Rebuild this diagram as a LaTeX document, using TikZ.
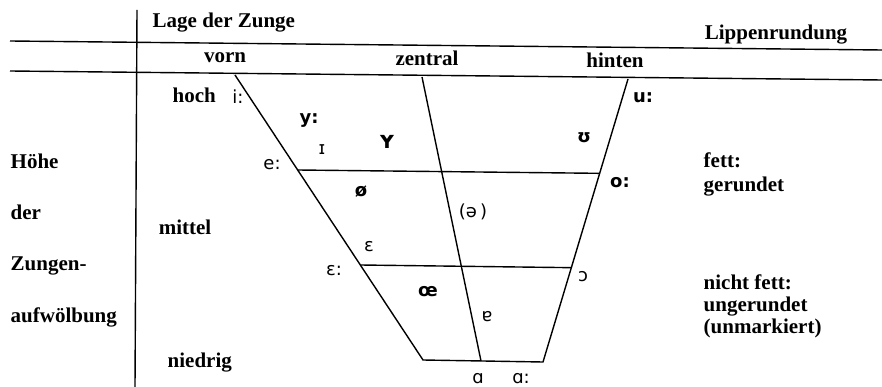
\documentclass[tikz,border=0pt]{standalone}
\usepackage{fontspec}
\setmainfont{Liberation Serif}
\newfontfamily\ipafont{DejaVu Sans}
\usetikzlibrary{calc}
\begin{document}
\begin{tikzpicture}[x=1pt,y=-1pt,line width=1.4pt,
  lbl/.style={font=\fontsize{21}{25}\selectfont\bfseries,inner sep=0pt},
  snd/.style={font=\ipafont\fontsize{18}{21}\selectfont,inner sep=0pt},
  rsnd/.style={font=\ipafont\bfseries\fontsize{18}{21}\selectfont,inner sep=0pt}]
\useasboundingbox (0,0) rectangle (882,387);
% frame lines
\coordinate (h1l) at (10,41);  \coordinate (h1r) at (882,50);
\coordinate (h2l) at (10,71);  \coordinate (h2r) at (882,80);
\coordinate (vt) at (137,10);  \coordinate (vb) at (135,387);
% trapezoid
\coordinate (tl) at (235,75);  \coordinate (tr) at (628,79);
\coordinate (bl) at (423,360); \coordinate (br) at (543,362);
\coordinate (ct) at (422,77);  \coordinate (cb) at (481,361);
\coordinate (ml1) at ($(tl)!1/3!(bl)$);
\coordinate (mr1) at ($(tr)!1/3!(br)$);
\coordinate (ml2) at ($(tl)!2/3!(bl)$);
\coordinate (mr2) at ($(tr)!2/3!(br)$);
\draw (h1l) -- (h1r);
\draw (h2l) -- (h2r);
\draw (vt) -- (vb);
\draw (tl) -- (bl) -- (br) -- (tr);
\draw (ct) -- (cb);
\draw (ml1) -- (mr1);
\draw (ml2) -- (mr2);
% headings
\node[lbl,anchor=base west] (lage) at (152,28) {Lage der Zunge};
\node[lbl,anchor=base] (vorn) at (225,63) {vorn};
\node[lbl,anchor=base] (zentral) at (427,66) {zentral};
\node[lbl,anchor=base] (hinten) at (615,68) {hinten};
\node[lbl,anchor=base] (lippen) at (776,40) {Lippenrundung};
\node[lbl,anchor=base west] (hoch) at (172,103) {hoch};
\node[lbl,anchor=base] (mittel) at (185,234) {mittel};
\node[lbl,anchor=base west] (niedrig) at (167,367) {niedrig};
\node[lbl,anchor=base west] (hoehe) at (10,169) {Höhe};
\node[lbl,anchor=base west] (der) at (10,219) {der};
\node[lbl,anchor=base west] (zungen) at (10,270) {Zungen-};
\node[lbl,anchor=base west] (aufw) at (10,322) {aufwölbung};
\node[lbl,anchor=base west] (fett) at (703,168) {fett:};
\node[lbl,anchor=base west] (ger) at (703,192) {gerundet};
\node[lbl,anchor=base west] (nfett) at (703,289) {nicht fett:};
\node[lbl,anchor=base west] (unger) at (703,311) {ungerundet};
\node[lbl,anchor=base west] (unm) at (703,333) {(unmarkiert)};
% vowels
\node[snd]  (i)  at (238,97)  {i:};
\node[rsnd] (y)  at (309,121) {y:};
\node[snd]  (I)  at (322,150) {ɪ};
\node[rsnd,font=\ipafont\bfseries\fontsize{24}{26}\selectfont] (Y) at (387,142) {ʏ};
\node[snd]  (e)  at (272,165) {e:};
\node[rsnd] (oe) at (361,192) {ø};
\node[snd]  (schwa) at (473,212) {(ə\,)};
\node[rsnd] (U)  at (584,138) {ʊ};
\node[rsnd] (u)  at (643,98)  {u:};
\node[rsnd] (o)  at (620,183) {o:};
\node[snd]  (E)  at (369,247) {ɛ};
\node[snd]  (EE) at (334,271) {ɛ:};
\node[rsnd] (OE) at (428,292) {œ};
\node[snd]  (a6) at (487,317) {ɐ};
\node[snd]  (O)  at (583,277) {ɔ};
\node[snd,anchor=base]  (A)  at (478,383) {ɑ};
\node[snd,anchor=base]  (AA) at (521,383) {ɑ:};
\end{tikzpicture}
\end{document}
